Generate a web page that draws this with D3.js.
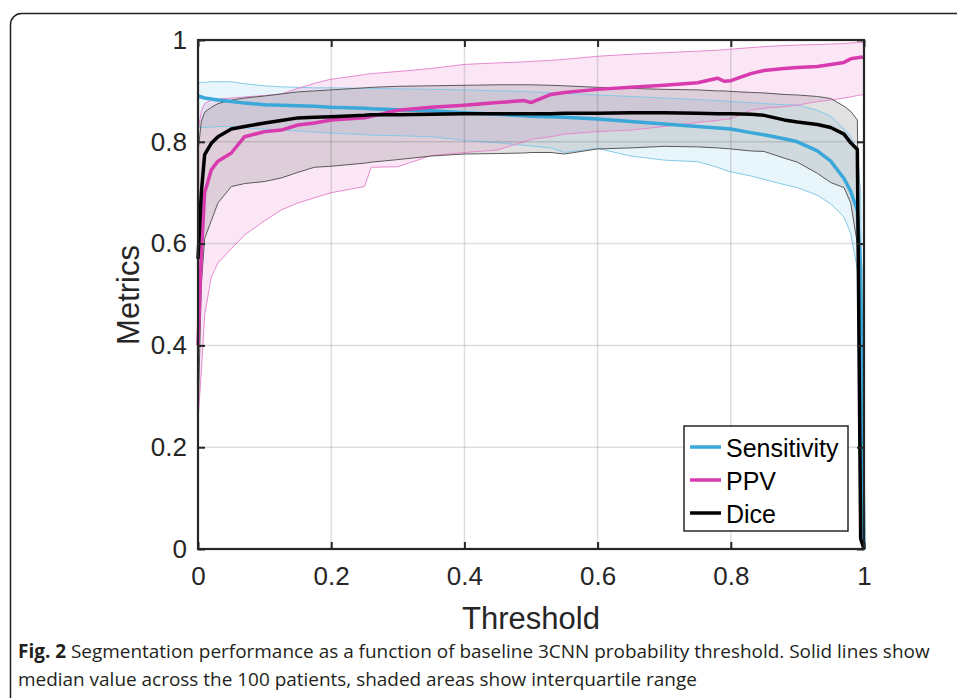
<!DOCTYPE html>
<html>
<head>
<meta charset="utf-8">
<script src="https://cdn.jsdelivr.net/npm/d3@7"></script>
<style>
  body { margin: 0; background: #fff; }
  svg { display: block; }
</style>
</head>
<body>
<svg width="957" height="698"></svg>
<script>
// threshold values (x) and the three metrics, median + interquartile range
var thresholds = [0, 0.005, 0.01, 0.02, 0.03, 0.05, 0.07, 0.1, 0.125, 0.15, 0.175, 0.2, 0.25, 0.26, 0.3, 0.35, 0.4, 0.45, 0.49, 0.5,
                  0.53, 0.55, 0.6, 0.65, 0.7, 0.75, 0.78, 0.79, 0.8, 0.83, 0.85, 0.88, 0.9, 0.93, 0.95, 0.97, 0.98, 0.99, 0.995, 1];

var sensMed = [0.890, 0.888, 0.886, 0.884, 0.882, 0.879, 0.876, 0.873, 0.872, 0.871, 0.870, 0.868, 0.866, 0.865, 0.863, 0.861, 0.857, 0.854, 0.851, 0.850,
               0.849, 0.848, 0.845, 0.840, 0.835, 0.830, 0.827, 0.826, 0.825, 0.818, 0.814, 0.806, 0.800, 0.782, 0.762, 0.728, 0.703, 0.665, 0.550, 0.0];
var sensHi = [0.916, 0.917, 0.917, 0.918, 0.918, 0.918, 0.914, 0.910, 0.908, 0.907, 0.906, 0.906, 0.905, 0.905, 0.904, 0.903, 0.902, 0.900, 0.899, 0.898,
              0.897, 0.895, 0.892, 0.889, 0.886, 0.883, 0.881, 0.880, 0.879, 0.877, 0.875, 0.873, 0.872, 0.862, 0.850, 0.825, 0.810, 0.780, 0.700, 0.0];
var sensLo = [0.830, 0.828, 0.828, 0.829, 0.830, 0.830, 0.827, 0.825, 0.823, 0.821, 0.819, 0.817, 0.814, 0.813, 0.812, 0.810, 0.803, 0.798, 0.793, 0.792,
              0.788, 0.779, 0.787, 0.772, 0.764, 0.761, 0.750, 0.745, 0.741, 0.733, 0.726, 0.716, 0.710, 0.695, 0.678, 0.652, 0.620, 0.550, 0.450, 0.0];

var ppvMed = [0.400, 0.580, 0.700, 0.745, 0.762, 0.778, 0.810, 0.820, 0.823, 0.833, 0.837, 0.843, 0.847, 0.850, 0.862, 0.868, 0.872, 0.877, 0.881, 0.877,
              0.893, 0.897, 0.903, 0.907, 0.911, 0.916, 0.925, 0.919, 0.920, 0.934, 0.940, 0.944, 0.946, 0.948, 0.952, 0.956, 0.963, 0.965, 0.966, 0.966];
var ppvHi = [0.820, 0.860, 0.875, 0.882, 0.884, 0.886, 0.888, 0.891, 0.894, 0.905, 0.915, 0.923, 0.932, 0.934, 0.938, 0.944, 0.952, 0.955, 0.957, 0.958,
             0.960, 0.962, 0.968, 0.972, 0.975, 0.978, 0.980, 0.981, 0.982, 0.985, 0.987, 0.989, 0.990, 0.991, 0.992, 0.993, 0.994, 0.995, 0.995, 0.995];
var ppvLo = [0.250, 0.350, 0.460, 0.535, 0.562, 0.590, 0.617, 0.645, 0.666, 0.680, 0.690, 0.700, 0.712, 0.750, 0.751, 0.773, 0.779, 0.784, 0.800, 0.805,
             0.810, 0.815, 0.820, 0.823, 0.830, 0.838, 0.842, 0.844, 0.845, 0.862, 0.866, 0.869, 0.872, 0.879, 0.882, 0.886, 0.888, 0.891, 0.892, 0.892];

var diceMed = [0.570, 0.700, 0.775, 0.797, 0.810, 0.825, 0.830, 0.837, 0.842, 0.847, 0.848, 0.849, 0.852, 0.853, 0.853, 0.854, 0.855, 0.855, 0.855, 0.855,
               0.855, 0.856, 0.856, 0.857, 0.857, 0.856, 0.855, 0.855, 0.855, 0.854, 0.852, 0.843, 0.839, 0.834, 0.828, 0.815, 0.798, 0.785, 0.020, 0.0];
var diceHi = [0.780, 0.840, 0.858, 0.868, 0.875, 0.882, 0.886, 0.890, 0.894, 0.898, 0.900, 0.902, 0.906, 0.907, 0.909, 0.910, 0.911, 0.912, 0.912, 0.912,
              0.911, 0.910, 0.907, 0.905, 0.903, 0.902, 0.900, 0.900, 0.899, 0.897, 0.896, 0.893, 0.892, 0.889, 0.885, 0.870, 0.860, 0.843, 0.300, 0.0];
var diceLo = [0.250, 0.520, 0.610, 0.645, 0.680, 0.712, 0.718, 0.722, 0.729, 0.740, 0.750, 0.752, 0.758, 0.760, 0.765, 0.772, 0.776, 0.777, 0.778, 0.779,
              0.779, 0.776, 0.786, 0.788, 0.791, 0.790, 0.788, 0.787, 0.786, 0.782, 0.781, 0.768, 0.760, 0.738, 0.720, 0.710, 0.680, 0.600, 0.200, 0.0];

var xTicks = [0, 0.2, 0.4, 0.6, 0.8, 1];
var xTickLabels = ["0", "0.2", "0.4", "0.6", "0.8", "1"];
var yTicks = [0, 0.2, 0.4, 0.6, 0.8, 1];
var yTickLabels = ["0", "0.2", "0.4", "0.6", "0.8", "1"];

var series = [
    { name: "Sensitivity", med: sensMed, hi: sensHi, lo: sensLo, line: "#3aa8d9", edge: "#86c9e8", fill: "rgba(63,172,222,0.12)" },
    { name: "PPV", med: ppvMed, hi: ppvHi, lo: ppvLo, line: "#d83bae", edge: "#e88ad0", fill: "rgba(224,63,178,0.13)" },
    { name: "Dice", med: diceMed, hi: diceHi, lo: diceLo, line: "#000000", edge: "#5a5a5a", fill: "rgba(130,130,130,0.24)" }
];

var svg = d3.select("svg");
var font = "Arial, 'Liberation Sans', Helvetica, sans-serif";

// outer figure frame (rounded, runs off the right and bottom)
svg.append("rect")
    .attr("x", 10.5).attr("y", 13.5)
    .attr("width", 1000).attr("height", 900)
    .attr("rx", 11)
    .attr("fill", "none")
    .attr("stroke", "#231f20")
    .attr("stroke-width", 1.5);

var margin = { left: 198, top: 40 };
var width = 864 - 198, height = 549 - 40;

var g = svg.append("g").attr("transform", "translate(" + margin.left + "," + margin.top + ")");

var x = d3.scaleLinear().domain([0, 1]).range([0, width]);
var y = d3.scaleLinear().domain([0, 1]).range([height, 0]);

g.append("clipPath").attr("id", "plotclip")
    .append("rect").attr("x", 0).attr("y", -2).attr("width", width).attr("height", height + 2);

var plot = g.append("g").attr("clip-path", "url(#plotclip)");

// shaded interquartile areas
series.forEach(function(s) {
    var area = d3.area()
        .x(function(d, i) { return x(thresholds[i]); })
        .y0(function(d, i) { return y(s.lo[i]); })
        .y1(function(d, i) { return y(s.hi[i]); });
    plot.append("path")
        .datum(thresholds)
        .attr("d", area)
        .attr("fill", s.fill)
        .attr("stroke", "none");
});

// grid
g.append("g").selectAll("line")
    .data(xTicks.slice(1, -1))
    .enter().append("line")
    .attr("x1", function(d) { return x(d); }).attr("x2", function(d) { return x(d); })
    .attr("y1", 0).attr("y2", height)
    .attr("stroke", "rgba(0,0,0,0.13)").attr("stroke-width", 1.5);
g.append("g").selectAll("line")
    .data(yTicks.slice(1, -1))
    .enter().append("line")
    .attr("y1", function(d) { return y(d); }).attr("y2", function(d) { return y(d); })
    .attr("x1", 0).attr("x2", width)
    .attr("stroke", "rgba(0,0,0,0.13)").attr("stroke-width", 1.5);

// thin edges of the areas
series.forEach(function(s) {
    [s.hi, s.lo].forEach(function(arr) {
        var ln = d3.line()
            .x(function(d, i) { return x(thresholds[i]); })
            .y(function(d) { return y(d); });
        plot.append("path")
            .datum(arr)
            .attr("d", ln)
            .attr("fill", "none")
            .attr("stroke", s.edge)
            .attr("stroke-width", 1);
    });
});

// median lines
series.forEach(function(s) {
    var ln = d3.line()
        .x(function(d, i) { return x(thresholds[i]); })
        .y(function(d) { return y(d); });
    g.append("path")
        .datum(s.med)
        .attr("d", ln)
        .attr("fill", "none")
        .attr("stroke", s.line)
        .attr("stroke-width", 3.5)
        .attr("stroke-linejoin", "round");
});

// axes, ticks point inward on all four sides
var axisColor = "#262626";
var xAxis = g.append("g")
    .attr("transform", "translate(0," + height + ")")
    .call(d3.axisBottom(x).tickValues(xTicks).tickSize(-7).tickPadding(18)
        .tickFormat(function(d, i) { return xTickLabels[i]; }));
var yAxis = g.append("g")
    .call(d3.axisLeft(y).tickValues(yTicks).tickSize(-7).tickPadding(11)
        .tickFormat(function(d, i) { return yTickLabels[i]; }));
var xTop = g.append("g")
    .call(d3.axisTop(x).tickValues(xTicks).tickSize(-7).tickFormat(""));
var yRight = g.append("g")
    .attr("transform", "translate(" + width + ",0)")
    .call(d3.axisRight(y).tickValues(yTicks).tickSize(-7).tickFormat(""));

[xAxis, yAxis, xTop, yRight].forEach(function(a) {
    a.select(".domain").remove();
    a.selectAll(".tick line").attr("stroke", axisColor).attr("stroke-width", 2);
    a.selectAll(".tick text")
        .attr("fill", "#262626")
        .style("font-family", font)
        .style("font-size", "26px");
});

g.append("rect")
    .attr("x", 0).attr("y", 0)
    .attr("width", width).attr("height", height)
    .attr("fill", "none")
    .attr("stroke", axisColor)
    .attr("stroke-width", 2.2);

// axis labels
svg.append("text")
    .attr("x", 531).attr("y", 629)
    .attr("text-anchor", "middle")
    .style("font-family", font).style("font-size", "31px")
    .attr("fill", "#262626")
    .text("Threshold");
svg.append("text")
    .attr("transform", "translate(139,295) rotate(-90)")
    .attr("text-anchor", "middle")
    .style("font-family", font).style("font-size", "31px")
    .attr("fill", "#262626")
    .text("Metrics");

// legend
var legend = svg.append("g").attr("transform", "translate(684,426)");
legend.append("rect")
    .attr("x", 0).attr("y", 0).attr("width", 164).attr("height", 105)
    .attr("fill", "#fff")
    .attr("stroke", axisColor)
    .attr("stroke-width", 1.5);
series.forEach(function(s, i) {
    var ly = 21 + i * 33;
    legend.append("line")
        .attr("x1", 6).attr("x2", 37)
        .attr("y1", ly).attr("y2", ly)
        .attr("stroke", s.line).attr("stroke-width", 3.5);
    legend.append("text")
        .attr("x", 42).attr("y", ly + 9.5)
        .style("font-family", font).style("font-size", "25px")
        .attr("fill", "#000")
        .text(s.name);
});

// caption (condensed look: scale horizontally to the reference line width)
var capFont = "'Open Sans', 'Noto Sans', sans-serif";
var cap1 = svg.append("text")
    .attr("x", 0).attr("y", 0)
    .style("font-family", capFont).style("font-size", "19px")
    .attr("fill", "#231f20");
cap1.append("tspan").style("font-weight", "bold").text("Fig. 2");
cap1.append("tspan").text(" Segmentation performance as a function of baseline 3CNN probability threshold. Solid lines show");
var cap2 = svg.append("text")
    .attr("x", 0).attr("y", 0)
    .style("font-family", capFont).style("font-size", "19px")
    .attr("fill", "#231f20")
    .text("median value across the 100 patients, shaded areas show interquartile range");

var w1 = cap1.node().getComputedTextLength();
var sx = (930 - 18) / w1;
cap1.attr("transform", "translate(18,658) scale(" + sx + ",1)");
cap2.attr("transform", "translate(18,686) scale(" + sx + ",1)");
</script>
</body>
</html>
